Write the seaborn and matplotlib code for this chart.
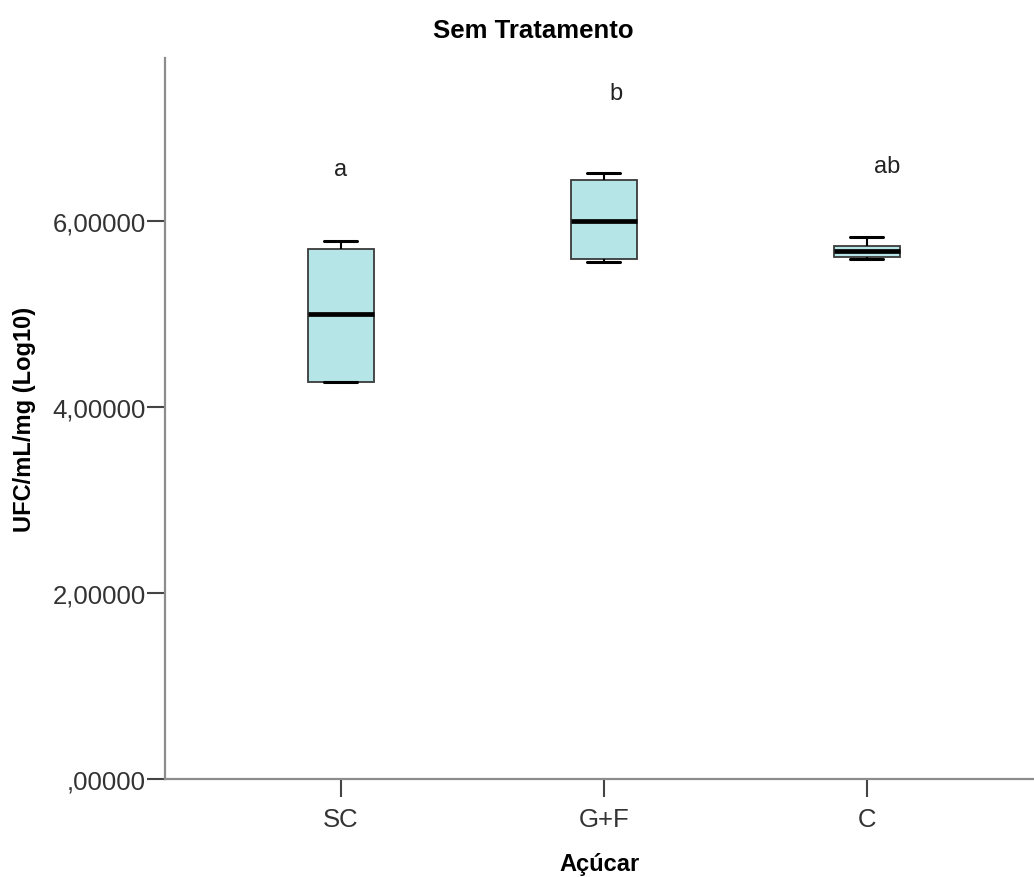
import pandas as pd
import numpy as np
import matplotlib
matplotlib.use("Agg")
import matplotlib.pyplot as plt
import seaborn as sns

# dados (5 valores por grupo: min, Q1, mediana, Q3, max)
grupos = ["SC", "G+F", "C"]
sc = [4.27, 4.27, 5.005, 5.70, 5.79]
gf = [5.565, 5.595, 6.00, 6.445, 6.52]
c = [5.595, 5.613, 5.677, 5.738, 5.828]

letras = ["a", "b", "ab"]
pos_letras = [(0.0, 6.56), (1.047, 7.38), (2.076, 6.59)]

y_ticks = [0, 2, 4, 6]
y_ticklabels = [",00000", "2,00000", "4,00000", "6,00000"]

df = pd.DataFrame({
    "acucar": ["SC"] * len(sc) + ["G+F"] * len(gf) + ["C"] * len(c),
    "ufc": sc + gf + c,
})

sns.set_style("white")
plt.rcParams["font.family"] = ["Liberation Sans", "DejaVu Sans"]

fig = plt.figure(figsize=(10.34, 8.78), dpi=100)
ax = fig.add_axes([0.1596, 0.1113, 0.8404, 0.822])

sns.boxplot(
    data=df, x="acucar", y="ufc", order=grupos, ax=ax,
    color="#b5e5e7", saturation=1, width=0.25, linewidth=1.3,
    linecolor="#3a3a3a", whis=3,
    medianprops=dict(color="black", linewidth=3.4),
    whiskerprops=dict(color="black", linewidth=1.5),
    capprops=dict(color="black", linewidth=2.2),
)

for txt, (x, y) in zip(letras, pos_letras):
    ax.text(x, y, txt, ha="center", va="center", fontsize=17, color="#222222")

ax.set_xlim(-0.668, 2.636)
ax.set_ylim(0, 7.76)
ax.set_yticks(y_ticks)
ax.set_yticklabels(y_ticklabels)

for s in ["top", "right"]:
    ax.spines[s].set_visible(False)
for s in ["left", "bottom"]:
    ax.spines[s].set_color("#8c8c8c")
    ax.spines[s].set_linewidth(1.6)

ax.tick_params(axis="y", direction="out", length=13, width=1.5, color="#444444",
               labelsize=18.5, labelcolor="#333333", pad=1, left=True)
ax.tick_params(axis="x", direction="out", length=13, width=1.5, color="#444444",
               labelsize=18.5, labelcolor="#333333", pad=7, bottom=True)

ax.set_xlabel("Açúcar", fontsize=17, fontweight="bold", labelpad=15, color="black")
ax.set_ylabel("UFC/mL/mg (Log10)", fontsize=17, fontweight="bold", labelpad=12,
              color="black")
fig.text(0.516, 0.965, "Sem Tratamento", ha="center", va="center",
         fontsize=18.5, fontweight="bold", color="black")

fig.savefig("out.png", dpi=100)
